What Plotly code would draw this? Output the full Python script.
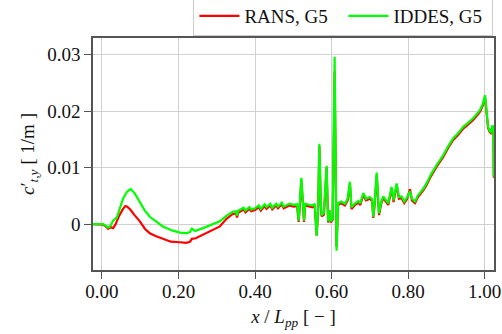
import plotly.graph_objects as go

# IDDES, G5 (green)
iddes_x = [-0.024, 0.003, 0.010, 0.016, 0.021, 0.029, 0.039, 0.047, 0.055, 0.065, 0.075, 0.086,
           0.099, 0.112, 0.125, 0.144, 0.159, 0.183, 0.204, 0.220, 0.230, 0.235, 0.243, 0.264,
           0.282, 0.308, 0.326, 0.342, 0.350, 0.353, 0.356, 0.360, 0.370, 0.375, 0.385, 0.390,
           0.400, 0.410, 0.415, 0.425, 0.430, 0.440, 0.445, 0.455, 0.460, 0.470, 0.475, 0.490,
           0.500, 0.510, 0.514, 0.517, 0.521, 0.525, 0.528, 0.531, 0.540, 0.550, 0.556, 0.561,
           0.565, 0.568, 0.572, 0.574, 0.580, 0.587, 0.591, 0.595, 0.598, 0.603, 0.608, 0.611,
           0.613, 0.617, 0.625, 0.635, 0.642, 0.648, 0.652, 0.660, 0.670, 0.675, 0.683, 0.690,
           0.700, 0.706, 0.709, 0.713, 0.718, 0.724, 0.730, 0.735, 0.742, 0.748, 0.757, 0.762,
           0.770, 0.776, 0.783, 0.790, 0.797, 0.805, 0.810, 0.818, 0.825, 0.831, 0.840, 0.848,
           0.860, 0.875, 0.892, 0.905, 0.918, 0.930, 0.944, 0.955, 0.970, 0.980, 0.988, 0.995,
           1.001, 1.005, 1.009, 1.013, 1.016, 1.019, 1.021, 1.023, 1.024]
iddes_y = [0.0000, 0.0000, -0.0003, -0.0006, -0.0004, 0.0006, 0.0012, 0.0030, 0.0045, 0.0057, 0.0062, 0.0054,
           0.0038, 0.0024, 0.0013, 0.0003, -0.0004, -0.0011, -0.0015, -0.0016, -0.0014, -0.0008, -0.0012, -0.0007,
           -0.0002, 0.0005, 0.0015, 0.0022, 0.0023, 0.0015, 0.0024, 0.0025, 0.0029, 0.0024, 0.0030, 0.0026,
           0.0028, 0.0033, 0.0027, 0.0035, 0.0030, 0.0036, 0.0029, 0.0036, 0.0031, 0.0038, 0.0031, 0.0036,
           0.0034, 0.0035, 0.0006, 0.0035, 0.0082, 0.0040, 0.0006, 0.0036, 0.0035, 0.0033, 0.0036, -0.0021,
           0.0030, 0.0142, 0.0035, 0.0016, 0.0020, 0.0103, 0.0005, 0.0025, 0.0005, 0.0010, 0.0296, 0.0040,
           -0.0047, 0.0037, 0.0040, 0.0036, 0.0045, 0.0075, 0.0030, 0.0036, 0.0041, 0.0037, 0.0055, 0.0045,
           0.0048, 0.0044, 0.0013, 0.0040, 0.0091, 0.0019, 0.0040, 0.0049, 0.0042, 0.0037, 0.0066, 0.0042,
           0.0072, 0.0048, 0.0049, 0.0040, 0.0047, 0.0058, 0.0045, 0.0040, 0.0050, 0.0055, 0.0063, 0.0072,
           0.0088, 0.0105, 0.0122, 0.0138, 0.0152, 0.0160, 0.0172, 0.0178, 0.0187, 0.0195, 0.0202, 0.0212,
           0.0228, 0.0200, 0.0172, 0.0165, 0.0163, 0.0170, 0.0175, 0.0160, 0.0084]

# RANS, G5 (red)
rans_x = [-0.024, 0.003, 0.010, 0.016, 0.022, 0.029, 0.035, 0.045, 0.055, 0.061, 0.066, 0.075,
          0.085, 0.099, 0.112, 0.125, 0.140, 0.159, 0.180, 0.204, 0.220, 0.230, 0.235, 0.245,
          0.264, 0.282, 0.308, 0.326, 0.342, 0.350, 0.353, 0.356, 0.360, 0.370, 0.375, 0.385,
          0.390, 0.400, 0.410, 0.415, 0.425, 0.430, 0.440, 0.445, 0.455, 0.460, 0.470, 0.475,
          0.490, 0.500, 0.510, 0.514, 0.517, 0.521, 0.525, 0.528, 0.531, 0.540, 0.550, 0.556,
          0.561, 0.565, 0.568, 0.572, 0.574, 0.580, 0.587, 0.591, 0.595, 0.598, 0.603, 0.608,
          0.611, 0.613, 0.617, 0.625, 0.635, 0.642, 0.648, 0.652, 0.660, 0.670, 0.675, 0.683,
          0.690, 0.700, 0.706, 0.709, 0.713, 0.718, 0.724, 0.730, 0.735, 0.742, 0.748, 0.757,
          0.762, 0.770, 0.776, 0.783, 0.790, 0.797, 0.805, 0.810, 0.818, 0.825, 0.831, 0.840,
          0.848, 0.860, 0.875, 0.892, 0.905, 0.918, 0.930, 0.944, 0.955, 0.970, 0.980, 0.988,
          0.995, 1.001, 1.005, 1.009, 1.013, 1.016, 1.019, 1.021, 1.023, 1.024]
rans_y = [0.0000, -0.0001, -0.0004, -0.0008, -0.0005, -0.0007, -0.0001, 0.0015, 0.0027, 0.0032, 0.0031, 0.0025,
          0.0016, 0.0005, -0.0008, -0.0016, -0.0021, -0.0026, -0.0031, -0.0032, -0.0033, -0.0031, -0.0026, -0.0025,
          -0.0019, -0.0012, -0.0004, 0.0010, 0.0018, 0.0019, 0.0012, 0.0020, 0.0022, 0.0026, 0.0021, 0.0027,
          0.0023, 0.0025, 0.0030, 0.0024, 0.0032, 0.0027, 0.0033, 0.0026, 0.0033, 0.0028, 0.0035, 0.0028,
          0.0033, 0.0031, 0.0032, 0.0004, 0.0032, 0.0078, 0.0037, 0.0004, 0.0033, 0.0032, 0.0030, 0.0033,
          -0.0020, 0.0027, 0.0138, 0.0032, 0.0014, 0.0017, 0.0100, 0.0003, 0.0022, 0.0003, 0.0008, 0.0270,
          0.0037, -0.0040, 0.0034, 0.0037, 0.0033, 0.0042, 0.0071, 0.0027, 0.0033, 0.0038, 0.0034, 0.0052,
          0.0042, 0.0045, 0.0041, 0.0011, 0.0037, 0.0087, 0.0016, 0.0037, 0.0046, 0.0039, 0.0034, 0.0063,
          0.0039, 0.0069, 0.0045, 0.0046, 0.0037, 0.0044, 0.0062, 0.0042, 0.0037, 0.0047, 0.0052, 0.0060,
          0.0069, 0.0085, 0.0102, 0.0119, 0.0135, 0.0149, 0.0157, 0.0169, 0.0175, 0.0184, 0.0192, 0.0199,
          0.0209, 0.0225, 0.0198, 0.0170, 0.0163, 0.0161, 0.0168, 0.0173, 0.0158, 0.0082]

x_tickvals = [0.0, 0.2, 0.4, 0.6, 0.8, 1.0]
x_ticktext = ["0.00", "0.20", "0.40", "0.60", "0.80", "1.00"]
y_tickvals = [0.0, 0.01, 0.02, 0.03]
y_ticktext = ["0", "0.01", "0.02", "0.03"]

FONT = "Liberation Serif"

fig = go.Figure()
fig.add_trace(go.Scatter(x=rans_x, y=rans_y, mode="lines", name="RANS, G5",
                         line=dict(color="#ff0000", width=2.2)))
fig.add_trace(go.Scatter(x=iddes_x, y=iddes_y, mode="lines", name="IDDES, G5",
                         line=dict(color="#00ff00", width=2.2)))

axis_common = dict(showline=True, mirror=True, linecolor="#555555", linewidth=1.5,
                   showgrid=True, gridcolor="#d0d0d0", gridwidth=1,
                   ticks="outside", ticklen=7, tickcolor="#555555", tickwidth=1,
                   zeroline=False, tickfont=dict(family=FONT, size=19, color="#111111"))

fig.update_layout(
    width=502, height=334,
    margin=dict(l=93, r=8, t=38, b=64, autoexpand=False),
    paper_bgcolor="white", plot_bgcolor="white",
    font=dict(family=FONT, size=19, color="#111111"),
    showlegend=True,
    legend=dict(orientation="h", x=0.9985, xanchor="right", y=0.0086 + 1.0, yanchor="bottom",
                xref="paper", yref="paper",
                bgcolor="white", bordercolor="#cccccc", borderwidth=1,
                font=dict(family=FONT, size=19), itemwidth=40, entrywidth=94,
                tracegroupgap=0),
    xaxis=dict(range=[-0.0235, 1.0245], tickvals=x_tickvals, ticktext=x_ticktext,
               ticklabelstandoff=-4,
               title=dict(text="<i>x</i> / <i>L<sub>pp</sub></i> [ − ]", standoff=9,
                          font=dict(family=FONT, size=19)),
               **axis_common),
    yaxis=dict(range=[-0.0081, 0.0329], tickvals=y_tickvals, ticktext=y_ticktext,
               title=dict(text="<i>c</i>′<sub><i>t,y</i></sub> [ 1/m ]", standoff=8,
                          font=dict(family=FONT, size=19)),
               **axis_common),
)

fig.write_html("out.html", config={"displayModeBar": False},
               post_script="document.body.style.margin='0';")
